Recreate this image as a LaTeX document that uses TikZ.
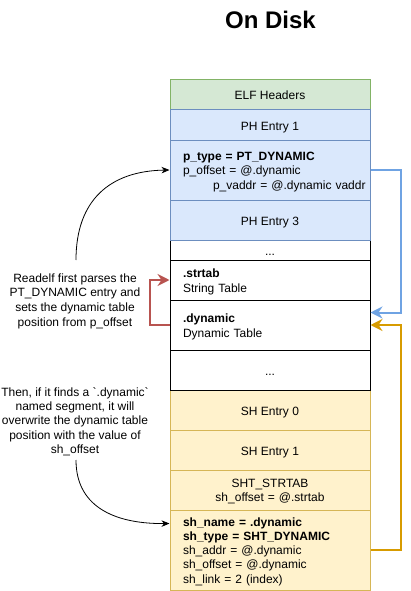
\documentclass[tikz,border=0pt]{standalone}
\usepackage{fontspec}
\setmainfont{Liberation Sans}[Ligatures=TeXOff]
\usetikzlibrary{arrows.meta,calc}
\definecolor{gfill}{HTML}{D5E8D4}
\definecolor{gline}{HTML}{82B366}
\definecolor{bfill}{HTML}{DAE8FC}
\definecolor{bline}{HTML}{6C8EBF}
\definecolor{yfill}{HTML}{FFF2CC}
\definecolor{yline}{HTML}{D6B656}
\definecolor{arrblue}{HTML}{6FA3E3}
\definecolor{arrred}{HTML}{B85450}
\definecolor{arrorange}{HTML}{D79B00}
\begin{document}
\begin{tikzpicture}[x=1pt,y=-1pt,
  row/.style={draw, line width=1pt, minimum width=200pt, minimum height=#1,
    inner sep=0pt, font=\fontsize{12}{14.5}\selectfont, align=center, text height=12pt},
  oneline/.style={text depth=2pt},
  leftrow/.style={row=#1, text width=174pt, inner xsep=13pt, align=left},
  greenbox/.style={fill=gfill, draw=gline},
  bluebox/.style={fill=bfill, draw=bline},
  yellowbox/.style={fill=yfill, draw=yline},
  whitebox/.style={fill=white, draw=black},
  note/.style={font=\fontsize{12}{14.6}\selectfont, align=center, inner sep=0pt},
  blk/.style={draw=black, line width=0.8pt, -{Stealth[length=8pt,width=6.5pt,inset=2.5pt]}},
  thick arrow/.style={line width=2pt, -{Stealth[length=12pt,width=12pt,inset=4pt]}},
]
\useasboundingbox (0,0) rectangle (410,591);

\node[font=\fontsize{24}{28}\selectfont\bfseries, anchor=base, inner sep=0pt] (title) at (270.5,29) {On Disk};

% green
\node[row=30pt, oneline, greenbox] (elf) at (270,95) {ELF Headers};
% yellow
\node[row=40pt, oneline, yellowbox] (sh0) at (270,410) {SH Entry 0};
\node[row=40pt, oneline, yellowbox] (sh1) at (270,450) {SH Entry 1};
\node[leftrow=40pt, align=center, yellowbox, font=\fontsize{12}{14}\selectfont] (strt) at (270,490) {SHT\_STRTAB\\sh\_offset = @.strtab};
\node[leftrow=80pt, yellowbox, font=\fontsize{12}{14.2}\selectfont] (shname) at (270,550)
  {\textbf{sh\_name = .dynamic}\\\textbf{sh\_type = SHT\_DYNAMIC}\\sh\_addr = @.dynamic\\sh\_offset = @.dynamic\\sh\_link = 2 (index)};
% white
\node[row=20pt, oneline, whitebox] (dots1) at (270,250) {...};
\node[leftrow=40pt, whitebox] (strtab) at (270,280) {\textbf{.strtab}\\String Table};
\node[leftrow=50pt, whitebox] (dyn) at (270,325) {\textbf{.dynamic}\\Dynamic Table};
\node[row=40pt, oneline, whitebox] (dots2) at (270,370) {...};
% blue
\node[row=30pt, oneline, bluebox] (ph1) at (270,125) {PH Entry 1};
\node[leftrow=60pt, bluebox] (ptype) at (270,170)
  {\textbf{p\_type = PT\_DYNAMIC}\\p\_offset = @.dynamic\\\hspace*{30pt}\rlap{p\_vaddr = @.dynamic vaddr}};
\node[row=40pt, oneline, bluebox] (ph3) at (270,220) {PH Entry 3};

% notes
\node[note] (t1) at (75,301) {Readelf first parses the\\PT\_DYNAMIC entry and\\sets the dynamic table\\position from p\_offset};
\node[note, font=\fontsize{12}{14.3}\selectfont] (t2) at (75,421.5) {Then, if it finds a `.dynamic`\\named segment, it will\\overwrite the dynamic table\\position with the value of\\sh\_offset};

\coordinate (c1) at (76,260);
\coordinate (c2) at (76,460);

% connectors
\draw[blk] (c1) .. controls (76,200) and (110,171) .. (ptype.west);
\draw[blk] (c2) .. controls (76,510) and (120,524) .. ($(shname.north west)+(0,14)$);
\draw[thick arrow, draw=arrred] (dyn.west) -- ++(-20,0) |- (strtab.west);
\draw[thick arrow, draw=arrblue] (ptype.east) -- ++(30,0) |- ($(dyn.east)+(0,-12.5)$);
\draw[thick arrow, draw=arrorange] (shname.east) -- ++(30,0) |- (dyn.east);
\end{tikzpicture}
\end{document}
